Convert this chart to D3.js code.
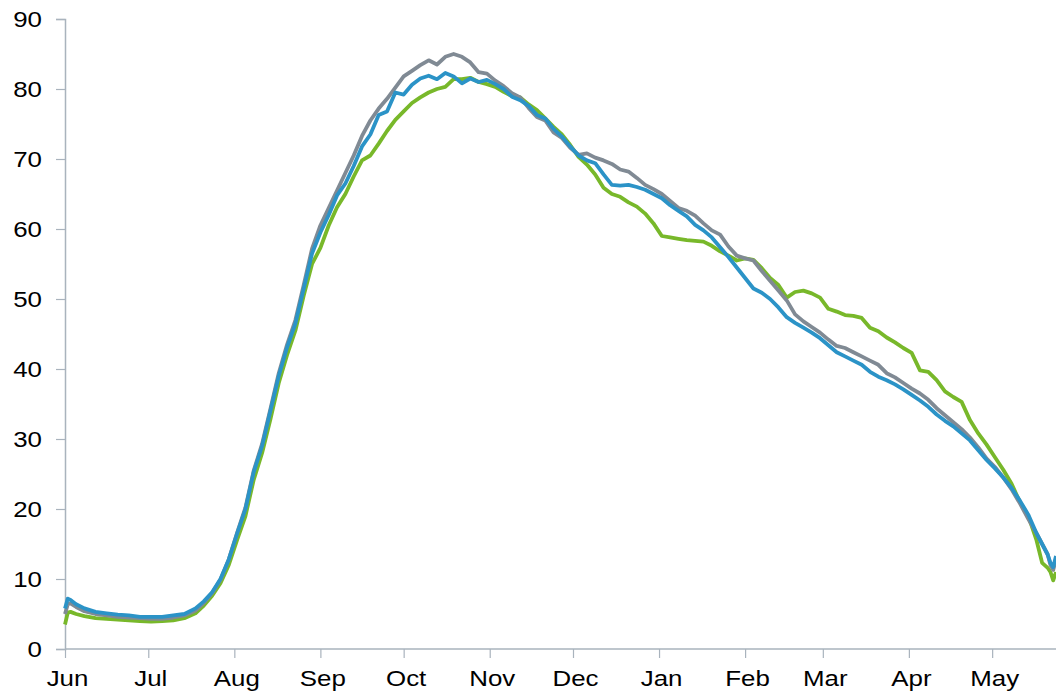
<!DOCTYPE html>
<html>
<head>
<meta charset="utf-8">
<script src="https://cdn.jsdelivr.net/npm/d3@7"></script>
<style>
  html, body { margin: 0; padding: 0; background: #fff; }
  #chart text { font-family: Arial, "Liberation Sans", sans-serif; font-size: 22.5px; fill: #000; }
</style>
</head>
<body>
<div id="chart"></div>
<script>
// day offsets from 1 June
const days = [0, 1, 2, 4, 7, 11, 15, 19, 23, 27, 31, 35, 39, 43, 47, 50, 53, 56, 59, 62,
  65, 68, 71, 74, 77, 80, 83, 86, 89, 92, 95, 98, 101, 104, 107, 110, 113, 116, 119, 122,
  125, 128, 131, 134, 137, 140, 143, 146, 149, 152, 155, 158, 161, 164, 167, 170, 173, 176, 179, 182,
  185, 188, 191, 194, 197, 200, 203, 206, 209, 212, 215, 218, 221, 224, 227, 230, 233, 236, 239, 242,
  245, 248, 251, 254, 257, 260, 263, 266, 269, 272, 275, 278, 281, 284, 287, 290, 293, 296, 299, 302,
  305, 308, 311, 314, 317, 320, 323, 326, 329, 332, 335, 338, 341, 344, 347, 350, 352, 354, 355, 356, 357];

const greenSeries = [3.5, 5.2, 5.3, 5.0, 4.7, 4.4, 4.3, 4.2, 4.1, 4.0, 3.9, 4.0, 4.1, 4.4, 5.1, 6.2, 7.6, 9.4, 12.0, 15.6,
  19.0, 24.2, 28.0, 32.8, 38.0, 42.0, 45.5, 50.5, 55.0, 57.3, 60.5, 63.1, 65.0, 67.5, 69.8, 70.5, 72.2, 74.0, 75.6, 76.8,
  78.0, 78.8, 79.5, 80.0, 80.3, 81.4, 81.4, 81.6, 81.0, 80.7, 80.3, 79.6, 79.0, 78.8, 77.8, 77.0, 75.8, 74.6, 73.5, 72.0,
  70.3, 69.2, 67.8, 65.9, 65.0, 64.6, 63.8, 63.2, 62.2, 60.8, 59.0, 58.8, 58.6, 58.4, 58.3, 58.2, 57.6, 56.8, 56.2, 55.5,
  55.8, 55.6, 54.4, 53.0, 52.0, 50.2, 51.0, 51.2, 50.8, 50.2, 48.6, 48.2, 47.7, 47.6, 47.3, 45.9, 45.4, 44.5, 43.8, 43.0,
  42.3, 39.8, 39.6, 38.4, 36.8, 36.0, 35.3, 32.7, 30.8, 29.2, 27.4, 25.6, 23.6, 21.0, 19.0, 15.5, 12.3, 11.6, 11.0, 9.8, 11.0];

const graySeries = [5.0, 6.4, 6.5, 6.0, 5.4, 5.0, 4.8, 4.6, 4.5, 4.4, 4.3, 4.3, 4.5, 4.8, 5.5, 6.6, 8.0, 9.9, 12.8, 16.6,
  20.2, 25.5, 29.3, 34.3, 39.4, 43.5, 47.0, 52.0, 57.2, 60.5, 63.0, 65.5, 68.0, 70.5, 73.3, 75.5, 77.2, 78.6, 80.2, 81.8,
  82.6, 83.4, 84.1, 83.5, 84.6, 85.0, 84.6, 83.8, 82.4, 82.2, 81.2, 80.4, 79.4, 78.8, 77.3, 76.0, 75.5, 73.8, 73.0, 71.6,
  70.6, 70.8, 70.2, 69.8, 69.3, 68.5, 68.2, 67.3, 66.3, 65.7, 65.0, 64.0, 63.0, 62.6, 61.9, 60.8, 59.8, 59.2, 57.5, 56.2,
  55.8, 55.5, 54.0, 52.6, 51.2, 49.8, 47.8, 46.8, 46.0, 45.2, 44.2, 43.3, 43.0, 42.4, 41.8, 41.2, 40.6, 39.4, 38.8, 38.0,
  37.2, 36.5, 35.6, 34.4, 33.4, 32.4, 31.4, 30.2, 28.8, 27.2, 26.0, 24.5, 22.8, 20.8, 18.6, 16.5, 15.0, 13.5, 12.0, 11.3, 12.8];

const blueSeries = [5.8, 7.2, 7.0, 6.4, 5.8, 5.3, 5.1, 4.9, 4.8, 4.6, 4.6, 4.6, 4.8, 5.0, 5.8, 6.8, 8.1, 10.0, 12.8, 16.5,
  20.0, 25.3, 29.0, 34.0, 39.0, 43.1, 46.5, 51.5, 56.5, 59.5, 62.0, 64.8, 66.5, 69.0, 71.8, 73.5, 76.3, 76.8, 79.5, 79.2,
  80.6, 81.5, 81.9, 81.4, 82.3, 81.8, 80.8, 81.5, 81.0, 81.3, 80.7, 80.0, 78.9, 78.4, 77.6, 76.3, 75.8, 74.3, 73.2, 71.8,
  70.5, 69.8, 69.4, 67.8, 66.3, 66.2, 66.3, 66.0, 65.6, 65.0, 64.4, 63.4, 62.6, 61.8, 60.6, 59.8, 58.8, 57.4, 56.0, 54.5,
  53.0, 51.5, 50.9, 50.0, 48.8, 47.4, 46.6, 45.9, 45.2, 44.4, 43.4, 42.4, 41.8, 41.2, 40.6, 39.6, 38.9, 38.4, 37.8, 37.1,
  36.3, 35.5, 34.6, 33.5, 32.6, 31.8, 30.8, 29.8, 28.4, 27.0, 25.8, 24.5, 23.0, 21.2, 19.2, 16.5, 15.0, 13.5, 12.3, 11.7, 13.3];

const series = [
  { name: 'green', values: greenSeries, color: '#78b82a' },
  { name: 'gray', values: graySeries, color: '#808a94' },
  { name: 'blue', values: blueSeries, color: '#2b93c7' },
];

const yTicks = [0, 10, 20, 30, 40, 50, 60, 70, 80, 90];
const monthLabels = ['Jun', 'Jul', 'Aug', 'Sep', 'Oct', 'Nov', 'Dec', 'Jan', 'Feb', 'Mar', 'Apr', 'May'];

const start = new Date(2013, 5, 1);
const end = d3.timeDay.offset(start, 357);

const width = 1056;
const height = 697;
const margin = { top: 19, right: 0, bottom: 48, left: 65 };
// the reference text is a little stretched sideways
const textStretch = 1.15;

const svg = d3.select('#chart').append('svg')
  .attr('width', width)
  .attr('height', height);

const x = d3.scaleTime()
  .domain([start, end])
  .range([margin.left, width - margin.right]);

const y = d3.scaleLinear()
  .domain([0, 90])
  .range([height - margin.bottom, margin.top]);

const axisColor = '#a9b3bd';

// x axis
const months = d3.timeMonth.range(start, end);
const xAxis = svg.append('g')
  .attr('transform', `translate(0,${y(0)})`)
  .call(d3.axisBottom(x)
    .tickValues(months)
    .tickSize(9)
    .tickPadding(12)
    .tickFormat((d, i) => monthLabels[i]));
xAxis.select('.domain').attr('stroke', axisColor).attr('stroke-width', 1.5)
  .attr('d', `M${margin.left},0H${width}`);
xAxis.selectAll('.tick line').attr('stroke', axisColor).attr('stroke-width', 1.2);
xAxis.selectAll('.tick text')
  .attr('x', 2 / textStretch)
  .attr('transform', `scale(${textStretch},1)`);

// y axis
const yAxis = svg.append('g')
  .attr('transform', `translate(${margin.left},0)`)
  .call(d3.axisLeft(y)
    .tickValues(yTicks)
    .tickSize(9));
yAxis.select('.domain').attr('stroke', axisColor).attr('stroke-width', 1.5);
yAxis.selectAll('.tick line').attr('stroke', axisColor).attr('stroke-width', 1.2);
yAxis.selectAll('.tick text')
  .attr('x', -23 / textStretch)
  .attr('transform', `scale(${textStretch},1)`);

svg.selectAll('.tick text').style('font-size', '22.5px').attr('fill', '#000');

// lines
const line = d3.line()
  .x((d, i) => x(d3.timeDay.offset(start, days[i])))
  .y(d => y(d));

svg.selectAll('.series')
  .data(series)
  .enter().append('path')
  .attr('class', 'series')
  .attr('fill', 'none')
  .attr('stroke', d => d.color)
  .attr('stroke-width', 3.8)
  .attr('stroke-linejoin', 'round')
  .attr('d', d => line(d.values));
</script>
</body>
</html>
